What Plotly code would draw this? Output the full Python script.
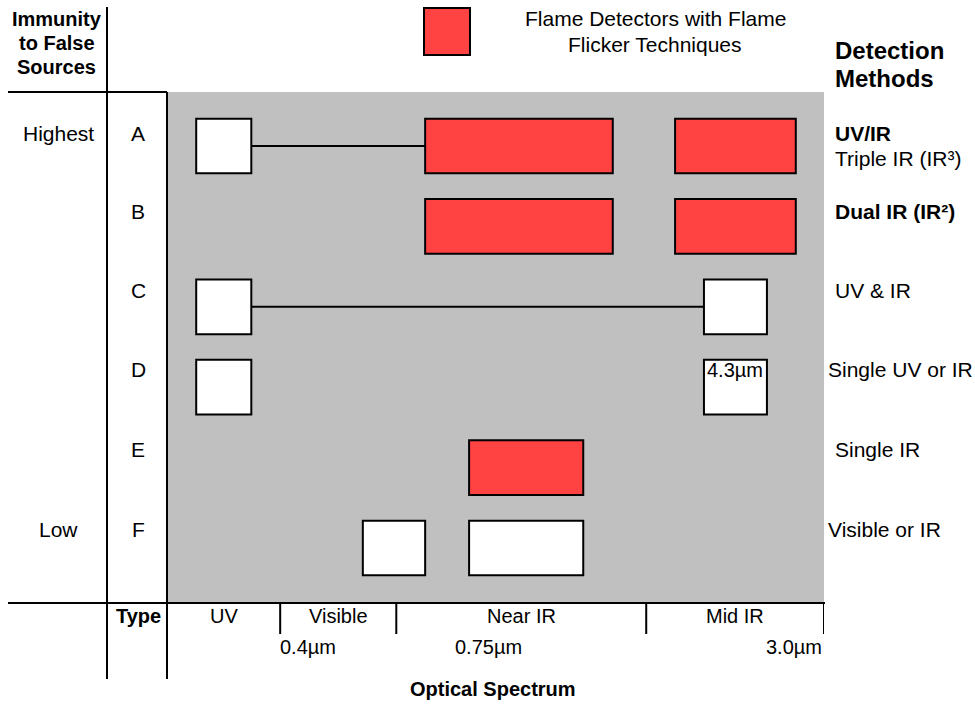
import plotly.graph_objects as go

# ---------------- data ----------------
rows = ["A", "B", "C", "D", "E", "F"]
immunity_labels = ["Highest", "", "", "", "", "Low"]
method_labels = ["<b>UV/IR</b>", "<b>Dual IR (IR²)</b>", "UV & IR", "Single UV or IR", "Single IR", "Visible or IR"]
method_sublabels = ["Triple IR (IR³)", "", "", "", "", ""]

# spectrum position scale (0-100 across the chart)
band_names = ["UV", "Visible", "Near IR", "Mid IR"]
band_edges = [0, 17.1, 34.8, 72.9, 100]
wavelength_labels = ["0.4µm", "0.75µm", "3.0µm"]

# detector boxes
box_row = ["A", "A", "A", "B", "B", "C", "C", "D", "D", "E", "F", "F"]
box_start = [4.3, 39.2, 77.3, 39.2, 77.3, 4.3, 81.7, 4.3, 81.7, 45.9, 29.7, 45.9]
box_end = [12.7, 67.8, 95.7, 67.8, 95.7, 12.7, 91.3, 12.7, 91.3, 63.3, 39.2, 63.3]
box_flicker = [False, True, True, True, True, False, False, False, False, True, False, False]
box_text = ["", "", "", "", "", "", "", "", "4.3µm", "", "", ""]

# connecting lines between combined sensors
link_row = ["A", "C"]
link_start = [12.7, 12.7]
link_end = [39.2, 81.7]

# ---------------- layout helpers ----------------
W, H = 975, 706
L, R, T, B = 168, 151, 92, 103
PW, PH = W - L - R, H - T - B
RED = "#FF4242"
GRAY = "#C0C0C0"
FONT = "Liberation Sans"
TSHIFT = 3


def px(x):
    return (x - L) / PW


def py(y):
    return (H - B - y) / PH


fig = go.Figure()
# invisible trace to establish axes
fig.add_trace(go.Scatter(x=[0, 100], y=[0, 5], mode="markers",
                         marker=dict(opacity=0), hoverinfo="skip", showlegend=False))

shapes = []
annotations = []
HALF = 0.34

for r, x0, x1, fl, txt in zip(box_row, box_start, box_end, box_flicker, box_text):
    i = rows.index(r)
    shapes.append(dict(type="rect", xref="x", yref="y", x0=x0, x1=x1,
                       y0=i - HALF, y1=i + HALF,
                       fillcolor=RED if fl else "white",
                       line=dict(color="black", width=2)))
    if txt:
        annotations.append(dict(xref="x", yref="y", x=(x0 + x1) / 2, y=i - HALF,
                                text=txt, showarrow=False, yanchor="top", yshift=3,
                                font=dict(size=20, color="black", family=FONT)))

for r, x0, x1 in zip(link_row, link_start, link_end):
    i = rows.index(r)
    shapes.append(dict(type="line", xref="x", yref="y", x0=x0, x1=x1, y0=i, y1=i,
                       line=dict(color="black", width=2)))

# frame lines
line = dict(color="black", width=2)
shapes += [
    dict(type="line", xref="paper", yref="paper", x0=px(107), x1=px(107), y0=py(7), y1=py(679), line=line),
    dict(type="line", xref="paper", yref="paper", x0=px(167), x1=px(167), y0=py(92), y1=py(679), line=line),
    dict(type="line", xref="paper", yref="paper", x0=px(8), x1=px(167), y0=py(92), y1=py(92), line=line),
    dict(type="line", xref="paper", yref="paper", x0=px(8), x1=px(825), y0=py(603), y1=py(603), line=line),
]
for e in band_edges[1:]:
    shapes.append(dict(type="line", xref="x", yref="paper", x0=e, x1=e,
                       y0=py(603), y1=py(634), line=line))

# legend marker
shapes.append(dict(type="rect", xref="paper", yref="paper", x0=px(424), x1=px(470),
                   y0=py(55), y1=py(8), fillcolor=RED, line=dict(color="black", width=2)))


def ann(x, y, text, size=21, xanchor="center", bold=False):
    annotations.append(dict(xref="paper", yref="paper", x=px(x), y=py(y),
                            text=f"<b>{text}</b>" if bold else text, showarrow=False,
                            xanchor=xanchor, yanchor="middle", yshift=TSHIFT,
                            font=dict(size=size, color="black", family=FONT)))


# header texts
for j, t in enumerate(["Immunity", "to False", "Sources"]):
    ann(57, 22 + 24 * j, t, size=20, bold=True)
ann(655, 22, "Flame Detectors with Flame")
ann(655, 47, "Flicker Techniques")
ann(833, 54, "Detection", size=24, xanchor="left", bold=True)
ann(833, 82, "Methods", size=24, xanchor="left", bold=True)

# row labels
label_y = [136, 214, 293, 372, 452, 532]
for i, r in enumerate(rows):
    ann(138, label_y[i], r)
    if immunity_labels[i]:
        ann(58, label_y[i], immunity_labels[i])
    xl = 826 if len(method_labels[i]) > 12 and not method_labels[i].startswith("<b>") else 833
    ann(xl, label_y[i], method_labels[i], xanchor="left")
    if method_sublabels[i]:
        ann(833, label_y[i] + 25, method_sublabels[i], xanchor="left")

# spectrum bands
ann(138, 619, "Type", size=20, bold=True)
for k, name in enumerate(band_names):
    c = (band_edges[k] + band_edges[k + 1]) / 2
    annotations.append(dict(xref="x", yref="paper", x=c, y=py(619), text=name,
                            showarrow=False, xanchor="center", yanchor="middle", yshift=TSHIFT,
                            font=dict(size=20, color="black", family=FONT)))
ann(278, 650, wavelength_labels[0], size=20, xanchor="left")
ann(453, 650, wavelength_labels[1], size=20, xanchor="left")
ann(824, 650, wavelength_labels[2], size=20, xanchor="right")
ann(493, 692, "Optical Spectrum", size=20, bold=True)

fig.update_layout(
    width=W, height=H,
    margin=dict(l=L, r=R, t=T, b=B, pad=0),
    paper_bgcolor="white", plot_bgcolor=GRAY,
    xaxis=dict(range=[0, 100], visible=False, showgrid=False, zeroline=False, fixedrange=True),
    yaxis=dict(range=[5 + 55 / 80.4, -54 / 80.4], visible=False, showgrid=False,
               zeroline=False, fixedrange=True),
    shapes=shapes, annotations=annotations, showlegend=False,
    font=dict(family=FONT),
)

fig.write_html("out.html", config={"displayModeBar": False},
               post_script="document.body.style.margin='0px';document.body.style.overflow='hidden';")
